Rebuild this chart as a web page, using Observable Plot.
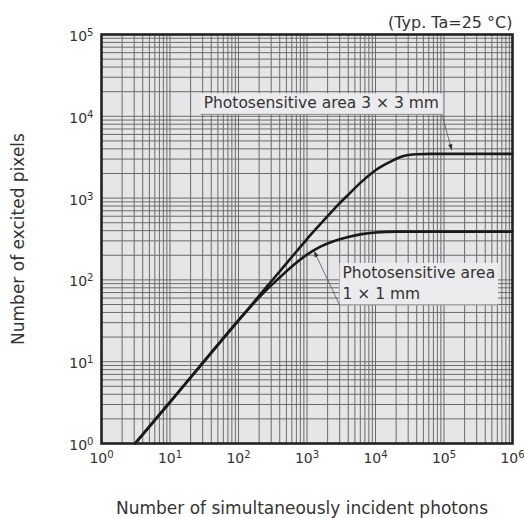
<!DOCTYPE html>
<html><head><meta charset="utf-8">
<script src="https://cdn.jsdelivr.net/npm/d3@7"></script>
<script src="https://cdn.jsdelivr.net/npm/@observablehq/plot@0.6"></script>
<style>
html,body{margin:0;padding:0;background:#fff;}
svg text{font-family:"DejaVu Sans",Verdana,sans-serif;}
</style></head><body><div id="chart"></div>
<script>
// Excited pixels versus simultaneously incident photons, for two photosensitive areas
const photons3 = [3.1, 10, 100, 160, 250, 400, 630, 1000, 1600, 2500, 4000, 6300, 10000, 16000, 25000, 40000, 63000, 1000000];
const pixels3  = [1, 3.2, 32, 51, 80, 127, 200, 316, 490, 740, 1100, 1590, 2190, 2750, 3240, 3430, 3470, 3470];
const photons1 = [3.1, 10, 100, 160, 250, 400, 630, 1000, 1600, 2500, 4000, 6300, 10000, 20000, 1000000];
const pixels1  = [1, 3.2, 32, 50, 74, 107, 151, 204, 257, 299, 335, 363, 380, 389, 389];

const seriesLabels = ["Photosensitive area 3 × 3 mm", "Photosensitive area\n1 × 1 mm"];

const decadesX = [1, 10, 100, 1e3, 1e4, 1e5, 1e6];
const decadesY = [1, 10, 100, 1e3, 1e4, 1e5];
const tickLabelsX = ["10^0", "10^1", "10^2", "10^3", "10^4", "10^5", "10^6"];
const tickLabelsY = ["10^0", "10^1", "10^2", "10^3", "10^4", "10^5"];

// label anchors and the curve points their leaders point to (data units)
const noteX = [31, 3300];
const noteY = [15100, 95];
const noteTipX = [132000, 1290];
const noteTipY = [3800, 222];
const noteLeaderFrom = ["end", "start"];

const series = [
  ...photons3.map((x, i) => ({x, y: pixels3[i], s: "3x3"})),
  ...photons1.map((x, i) => ({x, y: pixels1[i], s: "1x1"}))
];
const notes = seriesLabels.map((t, i) => ({t, x: noteX[i], y: noteY[i]}));

// 1–9 × each decade for the log-paper grid
const gridOf = (decs) => decs.slice(0, -1).flatMap(d => d3.range(1, 10).map(k => k * d)).concat(decs.at(-1));
const gridX = gridOf(decadesX);
const gridY = gridOf(decadesY);

const ink = "#333";
const plot = Plot.plot({
  width: 524,
  height: 518,
  marginLeft: 101,
  marginRight: 12,
  marginTop: 34,
  marginBottom: 75,
  style: {fontFamily: "DejaVu Sans, Verdana, sans-serif", color: ink, background: "#fff"},
  x: {type: "log", domain: [1, 1e6]},
  y: {type: "log", domain: [1, 1e5]},
  marks: [
    Plot.frame({fill: "#e6e6e8", stroke: null}),
    Plot.ruleX(gridX, {stroke: "#6a6a6a", strokeWidth: 1}),
    Plot.ruleY(gridY, {stroke: "#6a6a6a", strokeWidth: 1}),
    Plot.line(series, {x: "x", y: "y", z: "s", stroke: "#1a1a1a", strokeWidth: 2.6, curve: "monotone-x"}),
    Plot.frame({stroke: "#222", strokeWidth: 2.6}),
    Plot.axisX({ticks: decadesX, tickFormat: d => tickLabelsX[decadesX.indexOf(d)], tickSize: 0, tickPadding: 10, fontSize: 14, label: null}),
    Plot.axisY({ticks: decadesY, tickFormat: d => tickLabelsY[decadesY.indexOf(d)], tickSize: 0, tickPadding: 8, dy: 2, fontSize: 14, label: null}),
    Plot.text(["Number of simultaneously incident photons"], {frameAnchor: "bottom", lineAnchor: "middle", dy: 65, dx: -5, fontSize: 17, fill: ink}),
    Plot.text(["Number of excited pixels"], {frameAnchor: "left", textAnchor: "middle", lineAnchor: "middle", dx: -83, rotate: -90, fontSize: 17, fill: ink}),
    Plot.text(["(Typ. Ta=25 °C)"], {frameAnchor: "top-right", textAnchor: "end", lineAnchor: "middle", dy: -12, fontSize: 16, fill: ink}),
    Plot.text(notes, {x: "x", y: "y", text: "t", textAnchor: "start", lineAnchor: "middle", lineHeight: 1.35, fontSize: 15.5, fill: ink, className: "note"})
  ]
});
document.getElementById("chart").append(plot);

const svg = d3.select(plot);

// powers of ten: raise the exponent as a superscript
svg.selectAll('g[aria-label$="tick label"] text').each(function() {
  const [base, exp] = this.textContent.split("^");
  if (exp === undefined) return;
  const t = d3.select(this).text(base);
  t.append("tspan").attr("dy", "-0.5em").attr("font-size", "72%").text(exp);
});

// label backgrounds, underlines and leader arrows
const sx = plot.scale("x"), sy = plot.scale("y");
const origin = plot.getBoundingClientRect();
svg.selectAll("g.note text").each(function(d, i) {
  const r = this.getBoundingClientRect();
  const x0 = r.left - origin.left, y0 = r.top - origin.top;
  const group = this.parentNode;
  const bg = document.createElementNS("http://www.w3.org/2000/svg", "rect");
  d3.select(bg).attr("x", x0 - 3).attr("y", y0 - 1).attr("width", r.width + 6).attr("height", r.height + 3)
    .attr("fill", "#ebebed");
  group.parentNode.insertBefore(bg, group);
  const yb = y0 + r.height + 2;
  svg.append("line").attr("x1", x0 - 3).attr("x2", x0 + r.width + 3).attr("y1", yb).attr("y2", yb)
    .attr("stroke", "#8a8a8a").attr("stroke-width", 1);
  const fx = noteLeaderFrom[i] === "end" ? x0 + r.width + 3 : x0 - 3;
  const tx = sx.apply(noteTipX[i]), ty = sy.apply(noteTipY[i]);
  svg.append("line").attr("x1", fx).attr("y1", yb).attr("x2", tx).attr("y2", ty)
    .attr("stroke", "#555").attr("stroke-width", 0.8);
  const a = Math.atan2(ty - yb, tx - fx), L = 6, W = 2.2;
  const bx = tx - L * Math.cos(a), by = ty - L * Math.sin(a);
  svg.append("path")
    .attr("d", `M${tx},${ty}L${bx - W * Math.sin(a)},${by + W * Math.cos(a)}L${bx + W * Math.sin(a)},${by - W * Math.cos(a)}Z`)
    .attr("fill", "#333");
});
</script></body></html>
